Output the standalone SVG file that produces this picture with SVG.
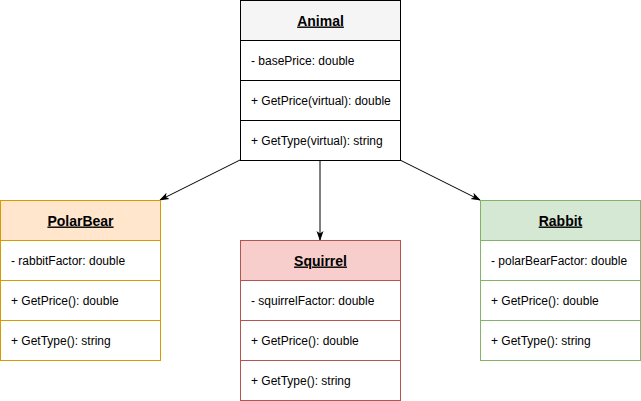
<svg xmlns="http://www.w3.org/2000/svg" width="641" height="401" viewBox="0 0 641 401">
<defs>
<style>
.t{font-family:"Liberation Sans",Arial,sans-serif;font-size:12px;fill:#000}
.h{font-size:14px;font-weight:bold;text-anchor:middle;text-decoration:underline}
</style>
<marker id="arr" viewBox="0 0 10 10" refX="9" refY="5" markerWidth="10" markerHeight="10" markerUnits="userSpaceOnUse" orient="auto">
<path d="M0,1.5 L10,5 L0,8.5 L2.5,5 Z" fill="#000"/>
</marker>
</defs>
<rect width="641" height="401" fill="#fff"/>
<g id="connectors" stroke="#000" fill="none">
<line x1="240" y1="160" x2="160" y2="200" marker-end="url(#arr)"/>
<line x1="320" y1="160" x2="320" y2="240" marker-end="url(#arr)"/>
<line x1="400" y1="160" x2="480" y2="200" marker-end="url(#arr)"/>
</g>
<g id="animal">
<rect x="240.5" y="0.5" width="160" height="40" fill="#f5f5f5" stroke="#000"/>
<rect x="240.5" y="40.5" width="160" height="120" fill="#fff" stroke="#000"/>
<line x1="240.5" y1="80.5" x2="400.5" y2="80.5" stroke="#000"/>
<line x1="240.5" y1="120.5" x2="400.5" y2="120.5" stroke="#000"/>
<text class="t h" x="320.5" y="25.5">Animal</text>
<text class="t" x="251" y="65">- basePrice: double</text>
<text class="t" x="251" y="105">+ GetPrice(virtual): double</text>
<text class="t" x="251" y="145">+ GetType(virtual): string</text>
</g>
<g id="polarbear">
<rect x="0.5" y="200.5" width="160" height="40" fill="#ffe6cc" stroke="#d79b00"/>
<rect x="0.5" y="240.5" width="160" height="120" fill="#fff" stroke="#d79b00"/>
<line x1="0.5" y1="280.5" x2="160.5" y2="280.5" stroke="#d79b00"/>
<line x1="0.5" y1="320.5" x2="160.5" y2="320.5" stroke="#d79b00"/>
<text class="t h" x="80.5" y="225.5">PolarBear</text>
<text class="t" x="11" y="265">- rabbitFactor: double</text>
<text class="t" x="11" y="305">+ GetPrice(): double</text>
<text class="t" x="11" y="345">+ GetType(): string</text>
</g>
<g id="squirrel">
<rect x="240.5" y="240.5" width="160" height="40" fill="#f8cecc" stroke="#b85450"/>
<rect x="240.5" y="280.5" width="160" height="120" fill="#fff" stroke="#b85450"/>
<line x1="240.5" y1="320.5" x2="400.5" y2="320.5" stroke="#b85450"/>
<line x1="240.5" y1="360.5" x2="400.5" y2="360.5" stroke="#b85450"/>
<text class="t h" x="320.5" y="265.5">Squirrel</text>
<text class="t" x="251" y="305">- squirrelFactor: double</text>
<text class="t" x="251" y="345">+ GetPrice(): double</text>
<text class="t" x="251" y="385">+ GetType(): string</text>
</g>
<g id="rabbit">
<rect x="480.5" y="200.5" width="160" height="40" fill="#d5e8d4" stroke="#82b366"/>
<rect x="480.5" y="240.5" width="160" height="120" fill="#fff" stroke="#82b366"/>
<line x1="480.5" y1="280.5" x2="640.5" y2="280.5" stroke="#82b366"/>
<line x1="480.5" y1="320.5" x2="640.5" y2="320.5" stroke="#82b366"/>
<text class="t h" x="560.5" y="225.5">Rabbit</text>
<text class="t" x="491" y="265">- polarBearFactor: double</text>
<text class="t" x="491" y="305">+ GetPrice(): double</text>
<text class="t" x="491" y="345">+ GetType(): string</text>
</g>
</svg>
